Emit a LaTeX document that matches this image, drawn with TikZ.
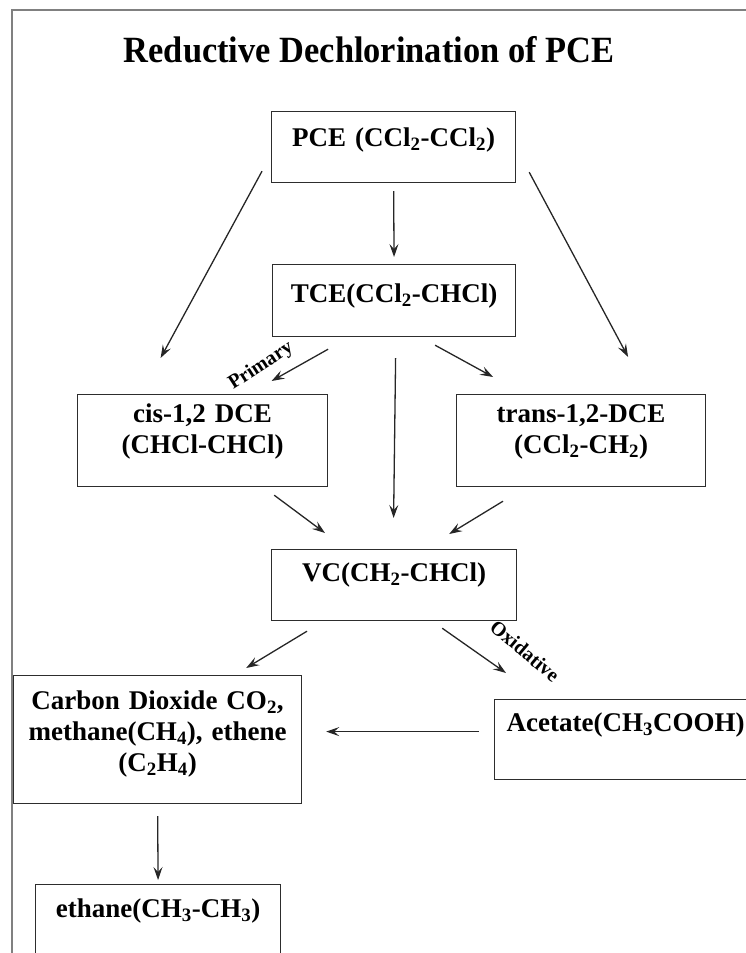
\documentclass[tikz,border=0pt]{standalone}
\usepackage{fontspec}
\setmainfont{Liberation Serif}
\newfontfamily\titlefont[FakeStretch=0.93]{Liberation Serif}
\usetikzlibrary{arrows.meta, positioning, calc}
\definecolor{framegray}{RGB}{128, 128, 128}
\definecolor{boxline}{RGB}{45, 45, 45}
\tikzset{
  stage/.style={rectangle, draw=boxline, line width=1.2pt, inner sep=0pt, anchor=north west, align=center, font=\fontsize{27}{31}\selectfont\bfseries},
  flow/.style={draw=black!85, line width=1.3pt, -{Stealth[length=13pt, width=9pt, inset=5pt]}},
  pathtag/.style={inner sep=0pt, font=\fontsize{20}{22}\selectfont\bfseries}
}

\begin{document}
\begin{tikzpicture}[x=1pt, y=-1pt]
    \useasboundingbox (0,0) rectangle (746,953);
    % Frame and title
    \draw[framegray, line width=2pt] (12,953) -- (12,10) -- (746,10);
    \node[anchor=base, font=\titlefont\fontsize{37}{40}\selectfont\bfseries] (Title) at (369,62) {Reductive Dechlorination of PCE};

    % Stages of the chain
    \node[stage, text width=244pt, text height=35pt, text depth=36pt] (PCE) at (271,111) {PCE (CCl\textsubscript{2}-CCl\textsubscript{2})};
    \node[stage, text width=243pt, text height=38pt, text depth=34pt] (TCE) at (272,264) {TCE(CCl\textsubscript{2}-CHCl)};
    \node[stage, text width=250pt, text height=28pt, text depth=64pt] (CisDCE) at (77,394) {cis-1,2 DCE\\(CHCl-CHCl)};
    \node[stage, text width=249pt, text height=28pt, text depth=64pt] (TransDCE) at (456,394) {trans-1,2-DCE\\(CCl\textsubscript{2}-CH\textsubscript{2})};
    \node[stage, text width=245pt, text height=32pt, text depth=39pt] (VC) at (271,549) {VC(CH\textsubscript{2}-CHCl)};
    \node[stage, text width=288pt, text height=34pt, text depth=94pt] (EndProd) at (13,675) {Carbon Dioxide CO\textsubscript{2},\\methane(CH\textsubscript{4}), ethene\\(C\textsubscript{2}H\textsubscript{4})};
    \node[stage, text width=262pt, text height=32pt, text depth=48pt] (Acetate) at (494,699) {Acetate(CH\textsubscript{3}COOH)};
    \node[stage, text width=245pt, text height=33pt, text depth=89pt] (Ethane) at (35,884) {ethane(CH\textsubscript{3}-CH\textsubscript{3})};

    % Pathway labels
    \node[pathtag, rotate=33] (Primary) at (261,366) {Primary};
    \node[pathtag, rotate=-40] (Oxidative) at (525,651) {Oxidative};

    % Arrows
    \draw[flow, shorten <=8pt, shorten >=7pt] (PCE.south) -- (TCE.north);
    \draw[flow] ($(PCE.south west)+(-9,-12)$) -- ($(CisDCE.north)+(-42,-36)$);
    \draw[flow] ($(PCE.south east)+(13,-11)$) -- ($(TransDCE.north)+(47,-37)$);
    \draw[flow] ($(TCE.south)+(-66,12)$) -- ($(CisDCE.north)+(69,-13)$);
    \draw[flow] ($(TCE.south)+(41,8)$) -- ($(TransDCE.north)+(-88,-17)$);
    \draw[flow] ($(TCE.south)+(1.5,21)$) -- ($(VC.north)+(-0.5,-31)$);
    \draw[flow] ($(CisDCE.south east)+(-54,8)$) -- ($(VC.north west)+(54,-16)$);
    \draw[flow] ($(TransDCE.south west)+(47,14)$) -- ($(VC.north east)+(-68,-15)$);
    \draw[flow] ($(VC.south west)+(36,10)$) -- ($(EndProd.north east)+(-56,-7)$);
    \draw[flow] ($(VC.south east)+(-75,7)$) -- ($(Acetate.north west)+(12,-26)$);
    \draw[flow] ($(Acetate.west)+(-15,-8)$) -- ($(EndProd.east)+(24,-8)$);
    \draw[flow, shorten <=12pt, shorten >=4pt] (EndProd.south) -- (Ethane.north);
\end{tikzpicture}
\end{document}
